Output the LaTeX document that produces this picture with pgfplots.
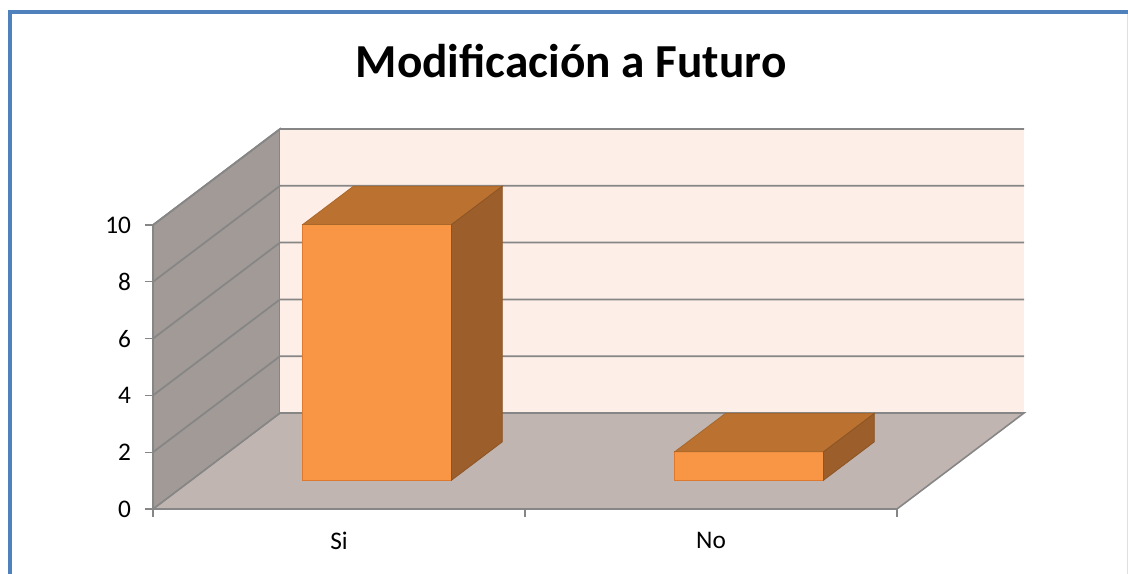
\documentclass[border=0pt]{standalone}
\usepackage{pgfplots}
\pgfplotsset{compat=1.18}
\usepackage{fontspec}
\setmainfont{Carlito}
\definecolor{frameblue}{RGB}{79,129,189}
\definecolor{floorc}{RGB}{192,181,177}
\definecolor{sidewall}{RGB}{161,154,150}
\definecolor{backwall}{RGB}{253,238,231}
\definecolor{gridc}{RGB}{134,134,134}
\definecolor{barfront}{RGB}{248,150,70}
\definecolor{bartop}{RGB}{187,114,48}
\definecolor{barside}{RGB}{156,94,42}
\definecolor{baredge}{RGB}{222,122,48}
\begin{document}
\begin{tikzpicture}
\path[use as bounding box] (0,0) rectangle (846pt,430.5pt);
% outer frame
\draw[frameblue, line width=3pt] (7.2pt,0) -- (7.2pt,421.5pt) -- (846pt,421.5pt);
\draw[black!12, line width=0.8pt] (845.3pt,0) -- (845.3pt,420pt);
% title
\node[anchor=base, font=\fontsize{35.5}{40}\selectfont\bfseries] at (428.25pt,372pt) {Modificación a Futuro};
\begin{axis}[
  x=279pt, y=21.3pt,
  xmin=0, xmax=2.3414, ymin=0, ymax=13.38,
  anchor=south west, at={(114.75pt,48.75pt)},
  axis lines*=left, axis line style={draw=none},
  clip=false,
  ytick={0,2,4,6,8,10},
  xtick={0,1,2}, xticklabels={},
  extra x ticks={0.5,1.5}, extra x tick labels={Si,No},
  extra x tick style={major tick length=0pt, tick style={draw=none},
    xticklabel style={yshift=-14pt}},
  yticklabel style={xshift=-7pt},
  tick align=outside, major tick length=6pt,
  tick style={draw=gridc, line width=1pt},
  tick label style={font=\fontsize{19}{22}\selectfont},
  /pgf/number format/assume math mode=true,
]
% floor
\addplot[fill=floorc, draw=gridc, line width=1.2pt] coordinates {(0,0) (2,0) (2.3414,3.38) (0.3414,3.38)} --cycle;
% side wall
\addplot[fill=sidewall, draw=gridc, line width=1.2pt] coordinates {(0,0) (0.3414,3.38) (0.3414,13.38) (0,10)} --cycle;
% back wall
\addplot[fill=backwall, draw=none] coordinates {(0.3414,3.38) (2.3414,3.38) (2.3414,13.38) (0.3414,13.38)} --cycle;
% grid lines (back wall and side wall)
\addplot[gridc, line width=1.3pt] coordinates {(0,2) (0.3414,5.38) (2.3414,5.38)};
\addplot[gridc, line width=1.3pt] coordinates {(0,4) (0.3414,7.38) (2.3414,7.38)};
\addplot[gridc, line width=1.3pt] coordinates {(0,6) (0.3414,9.38) (2.3414,9.38)};
\addplot[gridc, line width=1.3pt] coordinates {(0,8) (0.3414,11.38) (2.3414,11.38)};
\addplot[gridc, line width=1.3pt] coordinates {(0,10) (0.3414,13.38) (2.3414,13.38)};
\addplot[gridc, line width=1.3pt] coordinates {(0.3414,3.38) (2.3414,3.38)};
% bar Si (value 9)
\addplot[fill=barfront, draw=baredge, line width=0.8pt] coordinates {(0.4024,1.014) (0.8024,1.014) (0.8024,10.014) (0.4024,10.014)} --cycle;
\addplot[fill=bartop, draw=bartop!90!black, line width=0.6pt] coordinates {(0.4024,10.014) (0.8024,10.014) (0.939,11.366) (0.539,11.366)} --cycle;
\addplot[fill=barside, draw=barside!90!black, line width=0.6pt] coordinates {(0.8024,1.014) (0.939,2.366) (0.939,11.366) (0.8024,10.014)} --cycle;
% bar No (value 1)
\addplot[fill=barfront, draw=baredge, line width=0.8pt] coordinates {(1.4024,1.014) (1.8024,1.014) (1.8024,2.014) (1.4024,2.014)} --cycle;
\addplot[fill=bartop, draw=bartop!90!black, line width=0.6pt] coordinates {(1.4024,2.014) (1.8024,2.014) (1.939,3.366) (1.539,3.366)} --cycle;
\addplot[fill=barside, draw=barside!90!black, line width=0.6pt] coordinates {(1.8024,1.014) (1.939,2.366) (1.939,3.366) (1.8024,2.014)} --cycle;
\end{axis}
\end{tikzpicture}
\end{document}
